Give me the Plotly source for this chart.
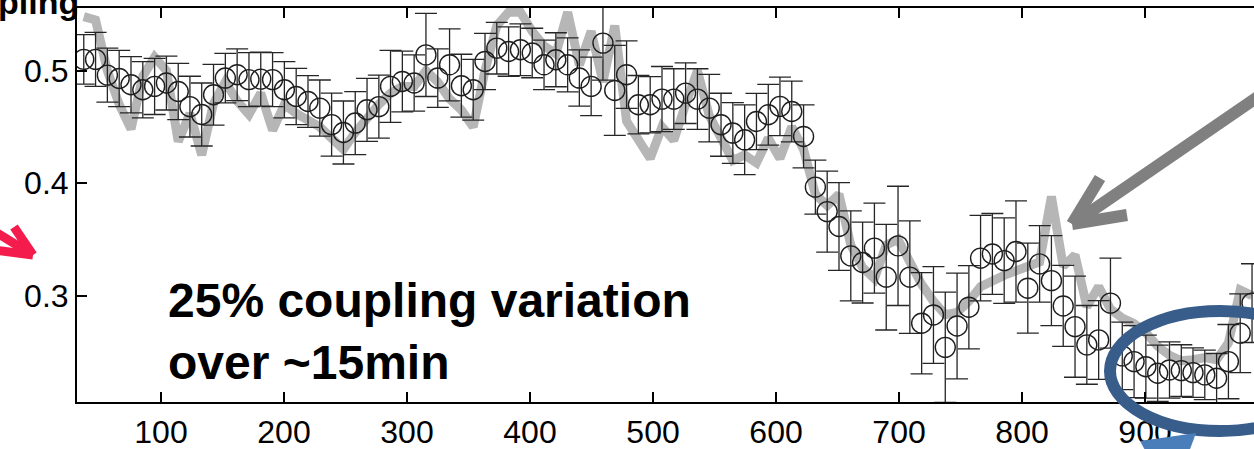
import plotly.graph_objects as go

# ---------------- data ----------------
time_s = [37.2, 46.8, 56.4, 66.0, 75.6, 85.2, 94.8, 104.4, 114.0, 123.5,
          133.1, 142.7, 152.3, 161.9, 171.5, 181.1, 190.7, 200.3, 209.9, 219.5,
          229.1, 238.7, 248.3, 257.9, 267.5, 277.1, 286.6, 296.2, 305.8, 315.4,
          325.0, 334.6, 344.2, 353.8, 363.4, 373.0, 382.6, 392.2, 401.8, 411.4,
          421.0, 430.6, 440.1, 449.7, 459.3, 468.9, 478.5, 488.1, 497.7, 507.3,
          516.9, 526.5, 536.1, 545.7, 555.3, 564.9, 574.5, 584.1, 593.7, 603.2,
          612.8, 622.4, 632.0, 641.6, 651.2, 660.8, 670.4, 680.0, 689.6, 699.2,
          708.8, 718.4, 728.0, 737.6, 747.2, 756.8, 766.3, 775.9, 785.5, 795.1,
          804.7, 814.3, 823.9, 833.5, 843.1, 852.7, 862.3, 871.9, 881.5, 891.1,
          900.7, 910.3, 919.9, 929.5, 939.0, 948.6, 958.2, 967.8, 977.4, 987.0]

coupling = [0.510, 0.510, 0.496, 0.493, 0.4875, 0.483, 0.486, 0.489, 0.4815, 0.468,
            0.461, 0.4786, 0.4934, 0.4964, 0.492, 0.4925, 0.492, 0.483, 0.477, 0.4726,
            0.4667, 0.452, 0.445, 0.4534, 0.4652, 0.468, 0.486, 0.4904, 0.489,
            0.514, 0.4934, 0.5052, 0.4866, 0.483, 0.5082, 0.520, 0.517, 0.5186, 0.5157,
            0.5052, 0.5097, 0.5052, 0.4934, 0.486, 0.5245, 0.4824, 0.4964, 0.4697, 0.4697,
            0.4747, 0.4747, 0.48, 0.4747, 0.4667, 0.4519, 0.4445, 0.4385, 0.4548, 0.4608,
            0.4682, 0.4637, 0.4415, 0.3964,
            0.3747, 0.3614, 0.3353, 0.3294, 0.3422, 0.3164, 0.3442, 0.3164, 0.2754, 0.2828,
            0.254, 0.273, 0.2897, 0.3333, 0.337, 0.3311, 0.3392, 0.3066, 0.3282, 0.3133,
            0.2908, 0.2724, 0.2562, 0.2606, 0.2933, 0.2464, 0.2413, 0.2368, 0.231, 0.2339,
            0.2333, 0.2315, 0.2295, 0.2265, 0.2413, 0.2666, 0.2933]

coupling_err = [0.022, 0.024, 0.024, 0.025, 0.025, 0.025, 0.025, 0.024, 0.025, 0.027,
                0.028, 0.027, 0.022, 0.023, 0.024, 0.024, 0.024, 0.025, 0.025, 0.023,
                0.025, 0.028, 0.028, 0.028, 0.028, 0.028, 0.032, 0.027, 0.025,
                0.037, 0.026, 0.032, 0.028, 0.027, 0.025, 0.023, 0.022, 0.023, 0.022,
                0.022, 0.024, 0.024, 0.025, 0.026, 0.033, 0.040, 0.030, 0.026, 0.025,
                0.029, 0.027, 0.027, 0.027, 0.030, 0.028, 0.027, 0.031, 0.025, 0.027,
                0.026, 0.027, 0.028, 0.024,
                0.036, 0.039, 0.040, 0.036, 0.040, 0.047, 0.053, 0.050, 0.045, 0.043,
                0.049, 0.047, 0.037, 0.038, 0.036, 0.038, 0.045, 0.040, 0.034, 0.040,
                0.036, 0.045, 0.035, 0.035, 0.040, 0.030, 0.032, 0.028, 0.025, 0.025,
                0.023, 0.022, 0.022, 0.022, 0.033, 0.035, 0.035]

model_gray = [0.548, 0.545, 0.500, 0.470, 0.448, 0.495, 0.512, 0.500, 0.437, 0.462,
              0.425, 0.471, 0.490, 0.473, 0.461, 0.480, 0.447, 0.470, 0.462, 0.455,
              0.450, 0.440, 0.430, 0.445, 0.458, 0.470, 0.480, 0.486, 0.486,
              0.500, 0.490, 0.475, 0.465, 0.450, 0.500, 0.540, 0.552, 0.552, 0.535,
              0.522, 0.515, 0.552, 0.505, 0.535, 0.490, 0.540, 0.455, 0.440, 0.422,
              0.450, 0.438, 0.470, 0.500, 0.460, 0.440, 0.420, 0.425, 0.418, 0.440,
              0.422, 0.450, 0.430, 0.390,
              0.380, 0.390, 0.345, 0.325, 0.315, 0.345, 0.350, 0.330, 0.310, 0.295,
              0.283, 0.285, 0.295, 0.308, 0.314, 0.318, 0.322, 0.326, 0.330, 0.388,
              0.326, 0.336, 0.290, 0.308, 0.288, 0.280, 0.275, 0.267, 0.255, 0.247,
              0.242, 0.243, 0.245, 0.243, 0.258, 0.305, 0.300]

x_ticks = [100, 200, 300, 400, 500, 600, 700, 800, 900]
y_ticks = [0.3, 0.4, 0.5]
y_tick_text = ["0.3", "0.4", "0.5"]

# ---------------- layout geometry ----------------
W, H = 1254, 449
ML, MR, MT, MB = 77, 0, 8, 47
PW, PH = W - ML - MR, H - MT - MB
FONT = "Liberation Sans, Arial, Helvetica, sans-serif"


def px(p):
    return (p - ML) / PW


def py(p):
    return (H - MB - p) / PH


fig = go.Figure()

fig.add_trace(go.Scatter(
    x=time_s, y=model_gray, mode="lines",
    line=dict(color="#b6b6b6", width=9),
    hoverinfo="skip", showlegend=False))

fig.add_trace(go.Scatter(
    x=time_s, y=coupling, mode="markers",
    marker=dict(symbol="circle-open", size=20, color="#1e1e1e",
                line=dict(width=1.4, color="#1e1e1e")),
    error_y=dict(type="data", array=coupling_err, visible=True,
                 color="#262626", thickness=1.3, width=11),
    showlegend=False))

shapes = []
# grey arrow (upper right)
for (x0, y0, x1, y1) in [(1262, 94, 1077, 221), (1072, 224, 1100, 178), (1072, 224, 1127, 215)]:
    shapes.append(dict(type="line", xref="paper", yref="paper",
                       x0=px(x0), y0=py(y0), x1=px(x1), y1=py(y1),
                       line=dict(color="#808080", width=12)))
# red arrow (left edge)
for (x0, y0, x1, y1) in [(33, 255, -6, 231), (33, 255, 14, 227), (33, 255, -6, 250)]:
    shapes.append(dict(type="line", xref="paper", yref="paper",
                       x0=px(x0), y0=py(y0), x1=px(x1), y1=py(y1),
                       line=dict(color="#f41c4c", width=9)))
# blue ellipse
shapes.append(dict(type="circle", xref="paper", yref="paper",
                   x0=px(1110), x1=px(1330), y0=py(431), y1=py(311),
                   line=dict(color="#385D8A", width=12)))
# light blue fragment at bottom
pts = [(1140, 441), (1196, 433), (1189, 452), (1146, 452)]
path = "M " + " L ".join(f"{px(a):.5f},{py(b):.5f}" for a, b in pts) + " Z"
shapes.append(dict(type="path", xref="paper", yref="paper", path=path,
                   fillcolor="#4a7ebb", line=dict(width=0)))

annotations = [
    dict(text="<b>Coupling</b>", xref="paper", yref="paper",
         x=px(81), y=py(22.5), xanchor="right", yanchor="bottom",
         showarrow=False, font=dict(family=FONT, size=34, color="black")),
    dict(text="<b>25% coupling variation<br>over ~15min</b>", xref="paper", yref="paper",
         x=px(166), y=py(272), xanchor="left", yanchor="top", align="left",
         showarrow=False, font=dict(family=FONT, size=48, color="black")),
]

fig.update_layout(
    width=W, height=H,
    margin=dict(l=ML, r=MR, t=MT, b=MB, pad=0, autoexpand=False),
    paper_bgcolor="white", plot_bgcolor="white",
    font=dict(family=FONT, color="black"),
    shapes=shapes, annotations=annotations,
    showlegend=False,
)

fig.update_xaxes(
    range=[31.7, 988.6], tickvals=x_ticks, ticks="inside", ticklen=10,
    tickwidth=1.8, tickcolor="black", showline=True, linewidth=2, linecolor="black",
    mirror="ticks", showgrid=False, zeroline=False, automargin=False,
    ticklabelstandoff=1,
    tickfont=dict(family=FONT, size=32, color="black"),
)
fig.update_yaxes(
    range=[0.2054, 0.5557], tickvals=y_ticks, ticktext=y_tick_text, ticks="inside",
    ticklen=10, tickwidth=1.8, tickcolor="black", showline=True, linewidth=2,
    linecolor="black", mirror=False, showgrid=False, zeroline=False, automargin=False,
    tickfont=dict(family=FONT, size=32, color="black"),
)

fig.write_html("out.html", config={"displayModeBar": False},
               post_script="document.body.style.margin='0';document.body.style.overflow='hidden';")
